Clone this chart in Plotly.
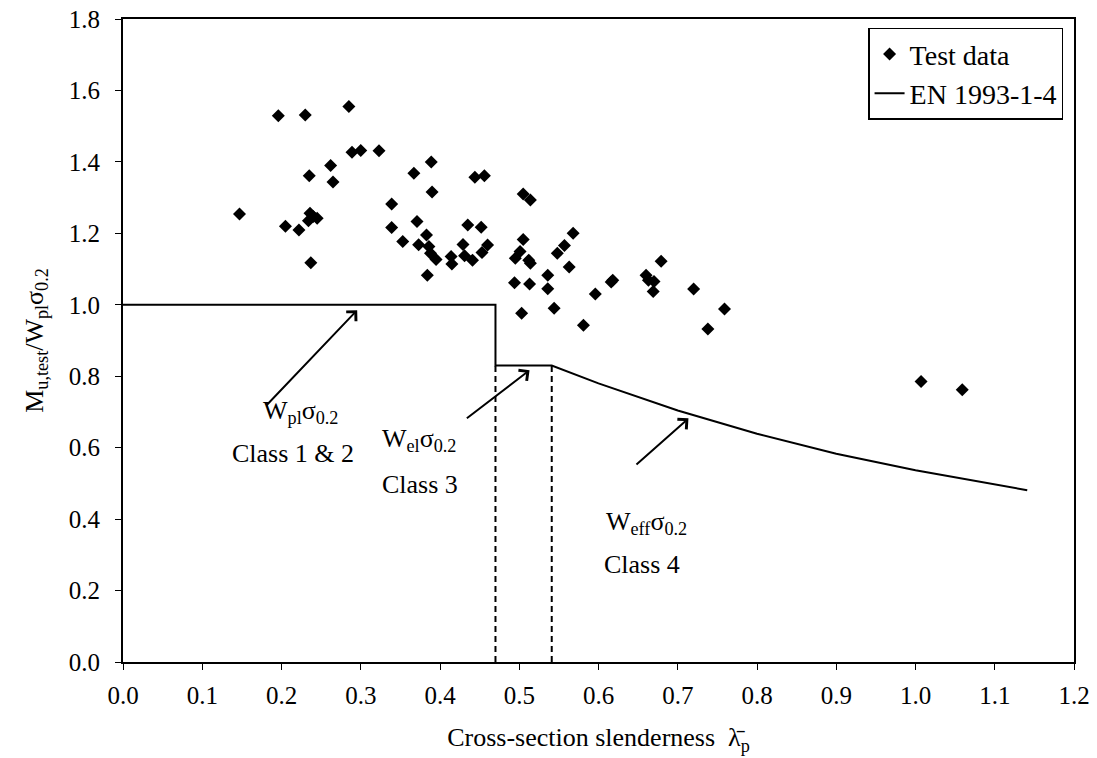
import plotly.graph_objects as go

# ---- Test data (cross-section slenderness, M_u,test / W_pl*sigma_0.2) ----
lam_test = [0.196, 0.230, 0.285, 0.289, 0.300, 0.262, 0.235, 0.265, 0.147, 0.236,
            0.234, 0.245, 0.240, 0.205, 0.222, 0.237, 0.323, 0.389, 0.367, 0.444,
            0.456, 0.390, 0.505, 0.514, 0.339, 0.371, 0.339, 0.435, 0.452, 0.383,
            0.568, 0.353, 0.373, 0.386, 0.505, 0.460, 0.429, 0.557, 0.388, 0.395,
            0.414, 0.415, 0.431, 0.441, 0.453, 0.501, 0.495, 0.512, 0.514, 0.548,
            0.563, 0.384, 0.494, 0.513, 0.536, 0.536, 0.596, 0.503, 0.544, 0.581,
            0.618, 0.616, 0.679, 0.660, 0.663, 0.670, 0.669, 0.720, 0.759, 0.738,
            1.007, 1.059]
ratio_test = [1.529, 1.531, 1.555, 1.427, 1.432, 1.390, 1.361, 1.344, 1.254, 1.256,
              1.235, 1.242, 1.247, 1.220, 1.209, 1.118, 1.431, 1.400, 1.368, 1.357,
              1.361, 1.316, 1.310, 1.293, 1.282, 1.233, 1.216, 1.223, 1.217, 1.195,
              1.200, 1.177, 1.168, 1.163, 1.183, 1.167, 1.169, 1.166, 1.144, 1.127,
              1.135, 1.114, 1.137, 1.125, 1.146, 1.149, 1.130, 1.125, 1.116, 1.144,
              1.106, 1.083, 1.062, 1.058, 1.083, 1.045, 1.030, 0.976, 0.990, 0.943,
              1.069, 1.064, 1.122, 1.083, 1.069, 1.065, 1.037, 1.044, 0.988, 0.932,
              0.785, 0.762]

# ---- EN 1993-1-4 design curve ----
lam_en = [0.0, 0.470, 0.470, 0.541, 0.60, 0.70, 0.80, 0.90, 1.00, 1.10, 1.141]
ratio_en = [1.0, 1.0, 0.83, 0.83, 0.780, 0.704, 0.639, 0.583, 0.537, 0.497, 0.481]

# class-limit dashed lines
lim_x1 = [0.470, 0.470]
lim_y1 = [0.0, 0.83]
lim_x2 = [0.541, 0.541]
lim_y2 = [0.0, 0.83]

FONT = "Liberation Serif"

fig = go.Figure()
fig.add_trace(go.Scatter(x=lim_x1, y=lim_y1, mode="lines", showlegend=False,
                         line=dict(color="black", width=2, dash="6px,4px"), hoverinfo="skip"))
fig.add_trace(go.Scatter(x=lim_x2, y=lim_y2, mode="lines", showlegend=False,
                         line=dict(color="black", width=2, dash="6px,4px"), hoverinfo="skip"))
fig.add_trace(go.Scatter(x=lam_test, y=ratio_test, mode="markers", name="Test data",
                         marker=dict(symbol="diamond", size=10, color="black")))
fig.add_trace(go.Scatter(x=lam_en, y=ratio_en, mode="lines", name="EN 1993-1-4",
                         line=dict(color="black", width=2)))

# text labels
labels = [
    (0.224, 0.700, "W<sub>pl</sub>σ<sub>0.2</sub>"),
    (0.214, 0.585, "Class 1 &amp; 2"),
    (0.373, 0.621, "W<sub>el</sub>σ<sub>0.2</sub>"),
    (0.375, 0.498, "Class 3"),
    (0.661, 0.389, "W<sub>eff</sub>σ<sub>0.2</sub>"),
    (0.655, 0.272, "Class 4"),
]
annotations = []
for x, y, t in labels:
    annotations.append(dict(x=x, y=y, xref="x", yref="y", text=t, showarrow=False,
                            font=dict(family=FONT, size=26, color="black")))

arrows = [
    (0.2955, 0.985, 0.179, 0.714),
    (0.513, 0.817, 0.432, 0.679),
    (0.7135, 0.682, 0.646, 0.549),
]
for hx, hy, tx, ty in arrows:
    annotations.append(dict(x=hx, y=hy, ax=tx, ay=ty, xref="x", yref="y",
                            axref="x", ayref="y", text="", showarrow=True,
                            arrowhead=4, arrowsize=1.3, arrowwidth=2, arrowcolor="black"))

fig.update_layout(
    template="none",
    width=1097, height=758,
    margin=dict(l=123, r=23, t=19, b=96),
    plot_bgcolor="white", paper_bgcolor="white",
    font=dict(family=FONT, size=25, color="black"),
    showlegend=True,
    legend=dict(x=0.9885, y=0.9865, xanchor="right", yanchor="top",
                bordercolor="black", borderwidth=1.5, bgcolor="white",
                font=dict(family=FONT, size=28), tracegroupgap=2, itemwidth=30),
    annotations=annotations,
    xaxis=dict(range=[0, 1.2], dtick=0.1, tick0=0, tickformat=".1f", automargin=False,
               showgrid=False, zeroline=False, showline=True, linecolor="black",
               linewidth=2, mirror=True, ticks="outside", ticklen=6, tickwidth=1,
               tickcolor="black", tickfont=dict(family=FONT, size=25),
               ticklabelstandoff=4,
               title=dict(text="Cross-section slenderness  λ̄<sub>p</sub>",
                          font=dict(family=FONT, size=26), standoff=20)),
    yaxis=dict(range=[0, 1.8], dtick=0.2, tick0=0, tickformat=".1f", automargin=False,
               showgrid=False, zeroline=False, showline=True, linecolor="black",
               linewidth=2, mirror=True, ticks="outside", ticklen=6, tickwidth=1,
               tickcolor="black", tickfont=dict(family=FONT, size=25),
               ticklabelstandoff=10,
               title=dict(text="M<sub>u,test</sub>/W<sub>pl</sub>σ<sub>0.2</sub>",
                          font=dict(family=FONT, size=26), standoff=18)),
)

fig.write_html("out.html", config={"displayModeBar": False},
               post_script="document.body.style.margin='0px';document.body.style.overflow='hidden';")
